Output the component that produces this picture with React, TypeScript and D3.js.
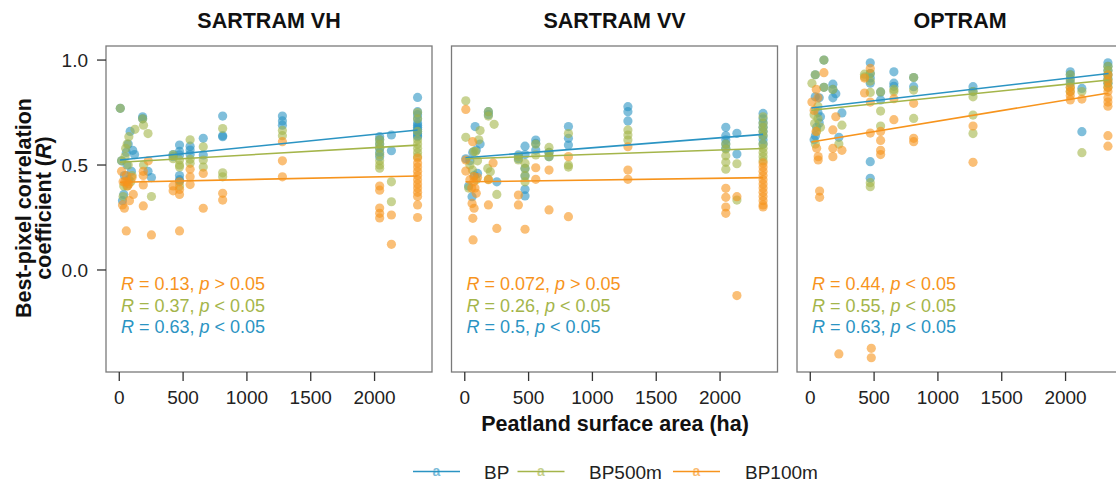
import React from "react";
import * as d3 from "d3";

type Pt = [number, number];

const panelTitles = ["SARTRAM VH", "SARTRAM VV", "OPTRAM"];
const seriesNames = ["BP", "BP500m", "BP100m"];
const seriesColors = ["#2b94c3", "#a4b54a", "#f7941d"];
const xTicks = [0, 500, 1000, 1500, 2000];
const yTicks = [0.0, 0.5, 1.0];

// SARTRAM VH
const vhBP: Pt[] = [[8,0.77],[18,0.52],[55,0.56],[70,0.60],[85,0.66],[105,0.57],[120,0.55],[60,0.50],[40,0.45],[75,0.43],[35,0.36],[25,0.33],[95,0.47],
  [183,0.73],[183,0.72],[225,0.47],[252,0.44],[422,0.55],[422,0.54],[472,0.595],[472,0.565],[472,0.548],[472,0.45],[472,0.424],[472,0.43],
  [555,0.59],[555,0.571],[555,0.55],[658,0.627],[658,0.548],[810,0.733],[810,0.635],[810,0.64],[1278,0.733],[1278,0.71],[1278,0.69],
  [2040,0.635],[2040,0.62],[2040,0.6],[2040,0.58],[2040,0.56],[2040,0.54],[2132,0.643],[2132,0.568],
  [2337,0.822],[2337,0.754],[2337,0.74],[2337,0.72],[2337,0.70],[2337,0.69],[2337,0.68],[2337,0.67],[2337,0.66],[2337,0.65],[2337,0.64],[2337,0.635]];
const vhBP500: Pt[] = [[8,0.77],[18,0.52],[35,0.40],[45,0.54],[62,0.60],[75,0.635],[123,0.67],[50,0.58],[70,0.50],[90,0.42],[30,0.35],[100,0.45],[60,0.40],
  [183,0.72],[190,0.69],[190,0.5],[225,0.65],[252,0.35],[422,0.548],[422,0.53],[472,0.524],[472,0.49],[472,0.4],[472,0.5],
  [555,0.527],[555,0.508],[555,0.62],[658,0.587],[658,0.524],[658,0.49],[810,0.674],[810,0.463],[810,0.444],[1278,0.665],[1278,0.64],
  [2040,0.62],[2040,0.6],[2040,0.58],[2040,0.55],[2040,0.52],[2040,0.5],[2040,0.485],[2132,0.42],[2132,0.325],
  [2337,0.75],[2337,0.72],[2337,0.66],[2337,0.62],[2337,0.6],[2337,0.58],[2337,0.56],[2337,0.54]];
const vhBP100: Pt[] = [[18,0.47],[30,0.42],[45,0.42],[60,0.42],[75,0.41],[55,0.45],[25,0.31],[40,0.294],[80,0.33],[55,0.186],[100,0.44],[110,0.36],[65,0.40],
  [188,0.47],[188,0.45],[188,0.405],[188,0.305],[227,0.52],[252,0.167],[422,0.4],[422,0.377],[472,0.384],[472,0.36],[472,0.186],[472,0.42],
  [555,0.48],[555,0.444],[555,0.407],[658,0.46],[658,0.294],[810,0.365],[810,0.333],[1278,0.611],[1278,0.52],[1278,0.444],
  [2040,0.40],[2040,0.38],[2040,0.295],[2040,0.27],[2040,0.248],[2132,0.262],[2132,0.122],
  [2337,0.533],[2337,0.51],[2337,0.49],[2337,0.47],[2337,0.45],[2337,0.43],[2337,0.41],[2337,0.39],[2337,0.37],[2337,0.35],[2337,0.31],[2337,0.25]];

// SARTRAM VV
const vvBP: Pt[] = [[8,0.53],[81,0.683],[120,0.6],[90,0.571],[62,0.56],[40,0.52],[57,0.349],[75,0.45],[100,0.46],[30,0.40],
  [185,0.754],[185,0.74],[251,0.42],[420,0.548],[420,0.53],[472,0.59],[472,0.55],[472,0.484],[472,0.448],[472,0.384],[472,0.353],
  [556,0.619],[556,0.603],[556,0.571],[660,0.54],[660,0.56],[812,0.683],[812,0.627],[812,0.595],[1278,0.778],[1278,0.754],[1278,0.71],
  [2045,0.68],[2045,0.64],[2045,0.62],[2045,0.6],[2045,0.58],[2132,0.651],[2132,0.552],
  [2337,0.746],[2337,0.72],[2337,0.70],[2337,0.68],[2337,0.66],[2337,0.64],[2337,0.62],[2337,0.6]];
const vvBP500: Pt[] = [[8,0.806],[8,0.632],[120,0.664],[70,0.564],[85,0.564],[60,0.476],[40,0.50],[90,0.43],[30,0.39],[100,0.52],[110,0.62],
  [185,0.754],[185,0.733],[230,0.694],[180,0.484],[200,0.468],[185,0.432],[251,0.36],[420,0.524],[420,0.54],
  [472,0.508],[472,0.484],[472,0.42],[472,0.45],[556,0.548],[556,0.6],[660,0.584],[660,0.56],[660,0.54],[812,0.65],[812,0.5],[812,0.49],
  [1278,0.667],[1278,0.643],[1278,0.619],[2045,0.6],[2045,0.576],[2045,0.544],[2045,0.513],[2045,0.48],[2132,0.506],[2132,0.333],
  [2337,0.73],[2337,0.70],[2337,0.68],[2337,0.66],[2337,0.64],[2337,0.6],[2337,0.58],[2337,0.56],[2337,0.54],[2337,0.52]];
const vvBP100: Pt[] = [[8,0.765],[8,0.524],[8,0.471],[62,0.611],[70,0.445],[70,0.42],[55,0.39],[80,0.39],[90,0.365],[57,0.317],[73,0.294],[63,0.246],[65,0.143],[40,0.43],[100,0.44],
  [222,0.51],[185,0.43],[185,0.31],[251,0.198],[420,0.357],[420,0.31],[472,0.194],[556,0.487],[556,0.432],[660,0.476],[660,0.286],
  [812,0.54],[812,0.254],[1278,0.587],[1278,0.476],[1278,0.432],[2045,0.389],[2045,0.346],[2045,0.3],[2045,0.27],[2132,0.349],[2132,-0.122],
  [2337,0.51],[2337,0.49],[2337,0.47],[2337,0.45],[2337,0.43],[2337,0.41],[2337,0.39],[2337,0.37],[2337,0.35],[2337,0.33],[2337,0.31],[2337,0.30]];

// OPTRAM
const opBP: Pt[] = [[107,1.0],[39,0.93],[39,0.825],[107,0.87],[177,0.885],[177,0.86],[200,0.84],[177,0.82],[70,0.82],[60,0.75],[80,0.73],[40,0.64],[70,0.70],[30,0.62],[50,0.68],
  [224,0.632],[248,0.748],[470,0.987],[470,0.936],[470,0.915],[470,0.89],[470,0.516],[470,0.437],[551,0.848],[551,0.81],
  [655,0.944],[655,0.89],[655,0.875],[810,0.917],[810,0.873],[1275,0.873],[1275,0.85],
  [2037,0.944],[2037,0.93],[2037,0.91],[2037,0.89],[2128,0.865],[2128,0.659],
  [2332,0.987],[2332,0.97],[2332,0.95],[2332,0.93],[2332,0.91],[2332,0.89]];
const opBP500: Pt[] = [[13,0.889],[107,1.0],[39,0.93],[107,0.87],[177,0.86],[34,0.698],[60,0.72],[50,0.66],[80,0.68],[40,0.6],[60,0.78],[30,0.74],
  [224,0.6],[248,0.69],[425,0.933],[425,0.92],[470,0.936],[470,0.846],[470,0.416],[470,0.397],[470,0.9],
  [551,0.848],[551,0.757],[551,0.686],[655,0.86],[655,0.85],[810,0.917],[810,0.857],[810,0.722],
  [1275,0.85],[1275,0.825],[1275,0.738],[1275,0.65],[2037,0.93],[2037,0.9],[2037,0.87],[2037,0.85],[2128,0.85],[2128,0.559],
  [2332,0.97],[2332,0.95],[2332,0.93],[2332,0.91],[2332,0.89],[2332,0.87]];
const opBP100: Pt[] = [[107,0.94],[47,0.86],[13,0.8],[60,0.82],[45,0.66],[50,0.58],[62,0.54],[62,0.524],[73,0.376],[73,0.346],[177,0.667],[177,0.58],[177,0.54],[200,0.73],[30,0.76],
  [224,-0.4],[248,0.57],[425,0.914],[425,0.843],[470,0.8],[470,0.652],[470,0.96],[478,-0.373],[478,-0.418],
  [551,0.66],[551,0.617],[551,0.57],[551,0.55],[655,0.816],[655,0.716],[810,0.794],[810,0.627],[810,0.611],[1275,0.686],[1275,0.513],
  [2037,0.87],[2037,0.85],[2037,0.83],[2037,0.81],[2128,0.814],
  [2332,0.93],[2332,0.90],[2332,0.87],[2332,0.85],[2332,0.82],[2332,0.80],[2332,0.78],[2332,0.64],[2332,0.59]];

const panelData: Pt[][][] = [
  [vhBP, vhBP500, vhBP100],
  [vvBP, vvBP500, vvBP100],
  [opBP, opBP500, opBP100],
];

// fitted regression lines: [x0, y0, x1, y1] per series
const vhFits = [[6, 0.524, 2337, 0.667], [6, 0.513, 2337, 0.595], [6, 0.418, 2337, 0.448]];
const vvFits = [[6, 0.535, 2337, 0.646], [6, 0.53, 2337, 0.579], [6, 0.42, 2337, 0.44]];
const opFits = [[8, 0.772, 2337, 0.936], [8, 0.761, 2337, 0.905], [8, 0.61, 2337, 0.843]];
const panelFits = [vhFits, vvFits, opFits];

// correlation labels: [R, sign] in order BP100m, BP500m, BP
const vhStats = [["0.13", ">"], ["0.37", "<"], ["0.63", "<"]];
const vvStats = [["0.072", ">"], ["0.26", "<"], ["0.5", "<"]];
const opStats = [["0.44", "<"], ["0.55", "<"], ["0.63", "<"]];
const panelStats = [vhStats, vvStats, opStats];
const statColorIdx = [2, 1, 0];

const FONT = "'Liberation Sans', Arial, Helvetica, sans-serif";
const W = 1116, H = 482;
const panelLefts = [106, 451.5, 797];
const panelW = 326;
const top = 46, bottom = 372;

export default function App() {
  const y = d3.scaleLinear().domain([-0.486, 1.067]).range([bottom, top]);
  return (
    <svg width={W} height={H} style={{ position: "absolute", left: 0, top: 0 }} fontFamily={FONT}>
      <rect width={W} height={H} fill="#fff" />
      {panelTitles.map((title, pi) => {
        const left = panelLefts[pi];
        const x = d3.scaleLinear().domain([-104, 2450]).range([left, left + panelW]);
        return (
          <g key={title}>
            <text x={left + panelW / 2} y={28} textAnchor="middle" fontWeight="bold" fontSize={21.5} fill="#111">{title}</text>
            {panelData[pi].map((pts, si) => (
              <g key={si} fill={seriesColors[si]} fillOpacity={0.6}>
                {pts.map((p, k) => (
                  <circle key={k} cx={x(p[0])} cy={y(p[1])} r={4.6} />
                ))}
              </g>
            ))}
            {panelFits[pi].map((f, si) => (
              <line key={si} x1={x(f[0])} y1={y(f[1])} x2={x(f[2])} y2={y(f[3])} stroke={seriesColors[si]} strokeWidth={1.6} />
            ))}
            {panelStats[pi].map((s, li) => (
              <text key={li} x={left + 15} y={290 + li * 21.5} fontSize={18} fill={seriesColors[statColorIdx[li]]}>
                <tspan fontStyle="italic">R</tspan>
                <tspan>{` = ${s[0]}, `}</tspan>
                <tspan fontStyle="italic">p</tspan>
                <tspan>{` ${s[1]} 0.05`}</tspan>
              </text>
            ))}
            <rect x={left} y={top} width={panelW} height={bottom - top} fill="none" stroke="#7a7a7a" strokeWidth={1.3} />
            {xTicks.map((t) => (
              <g key={t}>
                <line x1={x(t)} x2={x(t)} y1={bottom} y2={bottom + 9} stroke="#333" strokeWidth={1.3} />
                <text x={x(t)} y={404} textAnchor="middle" fontSize={19} fill="#222">{t}</text>
              </g>
            ))}
          </g>
        );
      })}
      {yTicks.map((t) => (
        <g key={t}>
          <line x1={97} x2={106} y1={y(t)} y2={y(t)} stroke="#333" strokeWidth={1.3} />
          <text x={88} y={y(t) + 6.8} textAnchor="end" fontSize={19} fill="#222">{t.toFixed(1)}</text>
        </g>
      ))}
      <g transform="translate(31,208) rotate(-90)">
        <text x={0} y={0} textAnchor="middle" fontWeight="bold" fontSize={21.5} fill="#111">Best-pixel correlation</text>
        <text x={0} y={19.5} textAnchor="middle" fontWeight="bold" fontSize={21.5} fill="#111">
          coefficient (<tspan fontStyle="italic">R</tspan>)
        </text>
      </g>
      <text x={615} y={431} textAnchor="middle" fontWeight="bold" fontSize={21.5} fill="#111">Peatland surface area (ha)</text>
      {seriesNames.map((name, si) => {
        const lx = [413, 517.5, 673][si];
        const tx = [484, 589, 745][si];
        return (
          <g key={name}>
            <line x1={lx} x2={lx + 47} y1={471.5} y2={471.5} stroke={seriesColors[si]} strokeWidth={1.6} />
            <text x={lx + 23.5} y={476} textAnchor="middle" fontSize={14} fontWeight="bold" fill={seriesColors[si]} fillOpacity={0.65}>a</text>
            <text x={tx} y={479} fontSize={19} fill="#222">{name}</text>
          </g>
        );
      })}
    </svg>
  );
}
